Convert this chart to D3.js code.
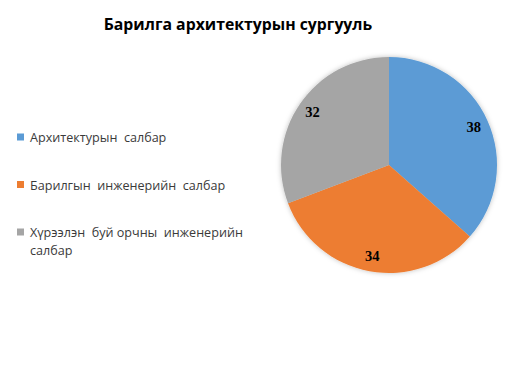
<!DOCTYPE html>
<html><head><meta charset="utf-8">
<script src="https://cdn.jsdelivr.net/npm/d3@7"></script>
<style>html,body{margin:0;padding:0;background:#fff;}svg{display:block;}</style>
</head><body>
<svg id="c" width="528" height="384"></svg>
<script>
const categories = ["Архитектурын  салбар", "Барилгын  инженерийн  салбар", "Хүрээлэн  буй орчны  инженерийн|салбар"];
const values = [38, 34, 32];
const colors = ["#5B9BD5", "#ED7D31", "#A5A5A5"];
const title = "Барилга архитектурын сургууль";

const svg = d3.select("#c");
const defs = svg.append("defs");
const f = defs.append("filter").attr("id","sh").attr("x","-20%").attr("y","-20%").attr("width","140%").attr("height","140%");
f.append("feDropShadow").attr("dx",0).attr("dy",0).attr("stdDeviation",2.5).attr("flood-color","#000").attr("flood-opacity",0.25);

svg.append("text").attr("x",238).attr("y",30).attr("text-anchor","middle")
  .attr("font-family","'Open Sans', sans-serif").attr("font-weight","bold").attr("font-size",15.8)
  .attr("fill","#000").text(title);

const cx = 389, cy = 165, r = 108;
const pie = d3.pie().sort(null).value(d=>d)(values);
const arc = d3.arc().innerRadius(0).outerRadius(r);
const lab = d3.arc().innerRadius(r*0.86).outerRadius(r*0.86);
const g = svg.append("g").attr("transform",`translate(${cx},${cy})`);
g.append("g").attr("filter","url(#sh)").selectAll("path").data(pie).join("path")
  .attr("d",arc).attr("fill",(d,i)=>colors[i]);
g.selectAll("text").data(pie).join("text")
  .attr("transform",d=>`translate(${lab.centroid(d)})`)
  .attr("text-anchor","middle").attr("dy","0.35em")
  .style("font-family","'Liberation Serif', 'Times New Roman', 'DejaVu Serif', serif").attr("font-weight","bold").attr("font-size",14.5)
  .attr("fill","#000").text(d=>d.data);

const ly = d3.scalePoint().domain(d3.range(categories.length)).range([142,237]);
const lg = svg.append("g");
categories.forEach((c,i)=>{
  const y = ly(i);
  lg.append("rect").attr("x",17).attr("y",y-8.5).attr("width",7).attr("height",7).attr("fill",colors[i]);
  const t = lg.append("text").attr("x",30).attr("y",y).attr("font-family","'Open Sans', sans-serif")
    .attr("font-size",12.6).attr("fill","#3a3a3a").style("white-space","pre");
  c.split("|").forEach((s,j)=>{
    t.append("tspan").attr("x",30).attr("dy", j===0?0:18).text(s);
  });
});
</script>
</body></html>
